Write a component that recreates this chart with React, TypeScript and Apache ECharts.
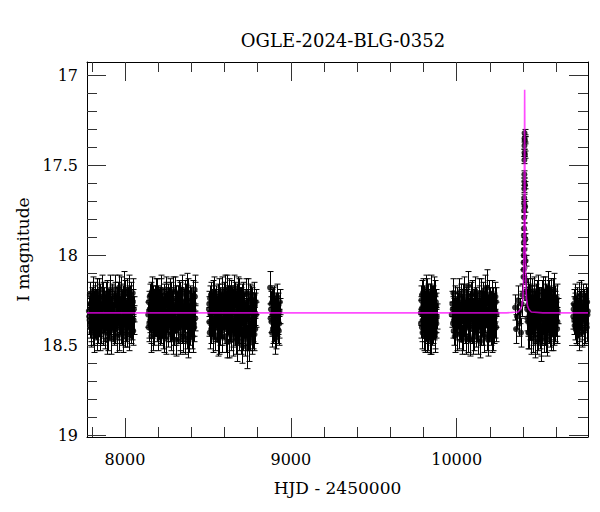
import React, { useEffect, useRef } from "react";
import * as echarts from "echarts";

// [HJD-2450000, I mag, error]
const season1 = [[7782,18.31,0.07],[7786,18.36,0.08],[7789,18.27,0.06],[7793,18.40,0.08],[7796,18.30,0.07],[7799,18.24,0.06],[7803,18.35,0.07],[7806,18.42,0.08],[7810,18.29,0.06],[7813,18.33,0.07],[7817,18.22,0.07],[7820,18.38,0.08],[7824,18.31,0.06],[7827,18.26,0.07],[7831,18.44,0.09],[7834,18.34,0.07],[7838,18.28,0.06],[7841,18.20,0.07],[7845,18.37,0.08],[7848,18.32,0.06],[7852,18.25,0.07],[7855,18.41,0.08],[7859,18.30,0.07],[7862,18.35,0.06],[7866,18.23,0.08],[7869,18.39,0.07],[7873,18.29,0.06],[7876,18.33,0.07],[7880,18.43,0.09],[7883,18.27,0.07],[7887,18.36,0.06],[7891,18.47,0.08],[7894,18.21,0.07],[7898,18.31,0.06],[7901,18.38,0.08],[7905,18.26,0.07],[7908,18.34,0.07],[7912,18.19,0.08],[7915,18.40,0.07],[7919,18.30,0.06],[7922,18.24,0.07],[7926,18.37,0.08],[7929,18.32,0.06],[7933,18.28,0.07],[7936,18.42,0.08],[7940,18.22,0.07],[7943,18.35,0.06],[7947,18.30,0.07],[7950,18.45,0.09],[7954,18.25,0.07],[7957,18.33,0.06],[7961,18.39,0.08],[7964,18.18,0.07],[7968,18.29,0.06],[7971,18.36,0.07],[7975,18.41,0.08],[7978,18.23,0.07],[7982,18.31,0.06],[7985,18.27,0.07],[7989,18.38,0.08],[7992,18.34,0.06],[7996,18.20,0.11],[7999,18.43,0.08],[8003,18.29,0.07],[8006,18.35,0.06],[8010,18.21,0.08],[8013,18.40,0.07],[8017,18.30,0.06],[8020,18.25,0.07],[8024,18.37,0.08],[8027,18.44,0.09],[8031,18.28,0.07],[8034,18.33,0.06],[8038,18.22,0.07],[8041,18.39,0.08],[8045,18.31,0.06],[8048,18.26,0.07],[8052,18.36,0.08]];
const season1b = [[7784,18.34,0.07],[7788,18.22,0.07],[7791,18.38,0.08],[7795,18.27,0.06],[7798,18.43,0.08],[7801,18.31,0.07],[7805,18.20,0.08],[7808,18.36,0.07],[7812,18.26,0.06],[7815,18.45,0.09],[7819,18.33,0.07],[7822,18.24,0.07],[7826,18.39,0.08],[7829,18.30,0.06],[7833,18.21,0.08],[7836,18.41,0.08],[7840,18.35,0.07],[7843,18.27,0.06],[7847,18.44,0.09],[7850,18.23,0.07],[7854,18.32,0.06],[7857,18.37,0.08],[7861,18.19,0.08],[7864,18.30,0.07],[7868,18.42,0.08],[7871,18.25,0.07],[7875,18.36,0.07],[7878,18.28,0.06],[7882,18.40,0.08],[7885,18.22,0.07],[7889,18.33,0.06],[7893,18.38,0.08],[7896,18.27,0.07],[7900,18.44,0.09],[7903,18.31,0.06],[7907,18.21,0.07],[7910,18.36,0.08],[7914,18.29,0.06],[7917,18.46,0.09],[7921,18.34,0.07],[7924,18.23,0.07],[7928,18.40,0.08],[7931,18.26,0.06],[7935,18.35,0.07],[7938,18.19,0.08],[7942,18.41,0.08],[7945,18.28,0.06],[7949,18.33,0.07],[7952,18.39,0.08],[7956,18.22,0.07],[7959,18.30,0.06],[7963,18.44,0.09],[7966,18.25,0.07],[7970,18.37,0.07],[7973,18.31,0.06],[7977,18.20,0.08],[7980,18.42,0.08],[7984,18.34,0.07],[7987,18.24,0.07],[7991,18.45,0.09],[7994,18.28,0.06],[7998,18.36,0.07],[8001,18.22,0.08],[8005,18.40,0.08],[8008,18.31,0.06],[8012,18.26,0.07],[8015,18.43,0.08],[8019,18.34,0.07],[8022,18.19,0.08],[8026,18.30,0.06],[8029,18.38,0.08],[8033,18.24,0.07],[8036,18.41,0.08],[8040,18.29,0.06],[8043,18.35,0.07],[8047,18.21,0.08],[8050,18.42,0.08],[8054,18.30,0.07]];

const season2 = [[8140,18.33,0.07],[8143,18.26,0.06],[8147,18.38,0.08],[8150,18.30,0.07],[8154,18.22,0.07],[8157,18.41,0.08],[8161,18.29,0.06],[8164,18.35,0.07],[8168,18.24,0.07],[8171,18.44,0.09],[8175,18.31,0.06],[8178,18.27,0.07],[8182,18.37,0.08],[8185,18.20,0.07],[8189,18.33,0.06],[8192,18.40,0.08],[8196,18.28,0.07],[8199,18.23,0.06],[8203,18.36,0.07],[8206,18.30,0.06],[8210,18.42,0.08],[8213,18.25,0.07],[8217,18.34,0.06],[8220,18.21,0.08],[8224,18.39,0.07],[8227,18.29,0.06],[8231,18.32,0.07],[8234,18.45,0.09],[8238,18.26,0.07],[8241,18.35,0.06],[8245,18.19,0.07],[8248,18.38,0.08],[8252,18.31,0.06],[8255,18.27,0.07],[8259,18.43,0.08],[8262,18.23,0.07],[8266,18.34,0.06],[8269,18.30,0.07],[8273,18.40,0.08],[8276,18.22,0.07],[8280,18.36,0.07],[8283,18.29,0.06],[8287,18.46,0.09],[8290,18.25,0.07],[8294,18.33,0.06],[8297,18.38,0.08],[8301,18.20,0.08],[8304,18.31,0.06],[8308,18.42,0.08],[8311,18.27,0.07],[8315,18.35,0.06],[8318,18.24,0.07],[8322,18.39,0.08],[8325,18.30,0.06],[8329,18.47,0.08],[8332,18.22,0.07],[8336,18.34,0.06],[8339,18.28,0.07],[8343,18.41,0.08],[8346,18.32,0.06],[8350,18.45,0.09],[8353,18.26,0.07],[8357,18.36,0.07],[8360,18.21,0.07],[8364,18.40,0.08],[8367,18.30,0.06],[8371,18.44,0.08],[8374,18.20,0.10],[8378,18.33,0.06],[8381,18.27,0.07],[8385,18.39,0.08],[8388,18.46,0.08],[8392,18.24,0.07],[8395,18.31,0.06],[8399,18.37,0.08],[8402,18.43,0.09],[8406,18.28,0.07],[8409,18.34,0.06],[8413,18.22,0.08],[8416,18.38,0.07],[8420,18.19,0.08],[8424,18.35,0.07]];
const season2b = [[8142,18.40,0.08],[8145,18.31,0.06],[8149,18.23,0.07],[8152,18.36,0.07],[8156,18.28,0.06],[8159,18.45,0.09],[8163,18.20,0.08],[8166,18.33,0.06],[8170,18.38,0.08],[8173,18.26,0.07],[8177,18.42,0.08],[8180,18.31,0.06],[8184,18.24,0.07],[8187,18.37,0.08],[8191,18.29,0.06],[8194,18.21,0.08],[8198,18.44,0.09],[8201,18.33,0.07],[8205,18.26,0.07],[8208,18.39,0.08],[8212,18.30,0.06],[8215,18.19,0.08],[8219,18.41,0.08],[8222,18.35,0.07],[8226,18.27,0.06],[8229,18.43,0.09],[8233,18.23,0.07],[8236,18.32,0.06],[8240,18.38,0.08],[8243,18.28,0.07],[8247,18.46,0.09],[8250,18.22,0.07],[8254,18.36,0.07],[8257,18.30,0.06],[8261,18.40,0.08],[8264,18.25,0.07],[8268,18.34,0.06],[8271,18.21,0.08],[8275,18.44,0.09],[8278,18.31,0.06],[8282,18.27,0.07],[8285,18.39,0.08],[8289,18.33,0.06],[8292,18.20,0.08],[8296,18.42,0.08],[8299,18.29,0.07],[8303,18.36,0.07],[8306,18.24,0.07],[8310,18.47,0.09],[8313,18.32,0.06],[8317,18.28,0.07],[8320,18.41,0.08],[8324,18.22,0.08],[8327,18.35,0.06],[8331,18.30,0.07],[8334,18.44,0.09],[8338,18.25,0.07],[8341,18.37,0.07],[8345,18.19,0.08],[8348,18.33,0.06],[8352,18.40,0.08],[8355,18.29,0.07],[8359,18.46,0.09],[8362,18.26,0.07],[8366,18.35,0.06],[8369,18.23,0.07],[8373,18.38,0.08],[8376,18.31,0.06],[8380,18.48,0.09],[8383,18.21,0.08],[8387,18.34,0.07],[8390,18.28,0.07],[8394,18.42,0.08],[8397,18.32,0.06],[8401,18.25,0.07],[8404,18.37,0.08],[8408,18.45,0.09],[8411,18.30,0.06],[8415,18.27,0.07],[8418,18.40,0.08],[8422,18.23,0.08]];

const season3 = [[8506,18.30,0.07],[8509,18.37,0.08],[8513,18.24,0.07],[8516,18.33,0.06],[8520,18.41,0.08],[8523,18.28,0.07],[8527,18.35,0.06],[8530,18.21,0.07],[8534,18.39,0.08],[8537,18.31,0.06],[8541,18.44,0.09],[8544,18.26,0.07],[8548,18.34,0.06],[8551,18.29,0.07],[8555,18.40,0.08],[8558,18.23,0.07],[8562,18.36,0.06],[8565,18.46,0.09],[8569,18.30,0.07],[8572,18.25,0.07],[8576,18.38,0.08],[8579,18.32,0.06],[8583,18.20,0.08],[8586,18.42,0.08],[8590,18.28,0.07],[8593,18.35,0.06],[8597,18.22,0.07],[8600,18.39,0.08],[8604,18.31,0.06],[8607,18.45,0.09],[8611,18.27,0.07],[8614,18.33,0.06],[8618,18.19,0.08],[8621,18.37,0.07],[8625,18.48,0.09],[8628,18.29,0.06],[8632,18.24,0.07],[8635,18.40,0.08],[8639,18.32,0.06],[8642,18.21,0.07],[8646,18.36,0.07],[8649,18.43,0.08],[8653,18.26,0.07],[8656,18.34,0.06],[8660,18.18,0.07],[8663,18.39,0.08],[8667,18.30,0.06],[8670,18.46,0.09],[8674,18.23,0.07],[8677,18.35,0.06],[8681,18.41,0.08],[8684,18.28,0.07],[8688,18.20,0.07],[8691,18.37,0.08],[8695,18.31,0.06],[8698,18.47,0.08],[8702,18.25,0.07],[8705,18.33,0.06],[8709,18.44,0.09],[8712,18.22,0.07],[8716,18.38,0.08],[8719,18.29,0.06],[8723,18.42,0.08],[8726,18.34,0.06],[8730,18.26,0.07],[8734,18.51,0.12],[8737,18.31,0.06],[8741,18.21,0.08],[8744,18.40,0.07],[8748,18.36,0.08],[8751,18.27,0.06],[8755,18.45,0.08],[8758,18.32,0.07],[8762,18.24,0.07],[8765,18.39,0.08],[8769,18.30,0.06],[8772,18.43,0.09],[8776,18.22,0.07],[8779,18.35,0.06],[8783,18.28,0.07],[8786,18.41,0.08],[8790,18.33,0.07]];
const season3b = [[8508,18.27,0.07],[8511,18.43,0.09],[8515,18.32,0.06],[8518,18.22,0.07],[8522,18.37,0.08],[8525,18.30,0.06],[8529,18.45,0.09],[8532,18.26,0.07],[8536,18.35,0.06],[8539,18.20,0.08],[8543,18.40,0.08],[8546,18.31,0.06],[8550,18.24,0.07],[8553,18.38,0.08],[8557,18.29,0.06],[8560,18.47,0.09],[8564,18.33,0.07],[8567,18.21,0.08],[8571,18.36,0.07],[8574,18.42,0.08],[8578,18.27,0.06],[8581,18.34,0.07],[8585,18.23,0.07],[8588,18.45,0.09],[8592,18.31,0.06],[8595,18.38,0.08],[8599,18.26,0.07],[8602,18.19,0.08],[8606,18.35,0.06],[8609,18.41,0.08],[8613,18.29,0.07],[8616,18.48,0.09],[8620,18.24,0.07],[8623,18.33,0.06],[8627,18.39,0.08],[8630,18.21,0.08],[8634,18.36,0.07],[8637,18.44,0.09],[8641,18.28,0.06],[8644,18.32,0.07],[8648,18.25,0.07],[8651,18.47,0.09],[8655,18.30,0.06],[8658,18.37,0.08],[8662,18.22,0.07],[8665,18.42,0.08],[8669,18.34,0.06],[8672,18.27,0.07],[8676,18.49,0.10],[8679,18.20,0.08],[8683,18.36,0.07],[8686,18.31,0.06],[8690,18.44,0.09],[8693,18.25,0.07],[8697,18.39,0.08],[8700,18.29,0.06],[8704,18.50,0.10],[8707,18.23,0.07],[8711,18.35,0.07],[8714,18.41,0.08],[8718,18.27,0.06],[8721,18.33,0.07],[8725,18.47,0.09],[8728,18.21,0.08],[8732,18.38,0.08],[8736,18.30,0.06],[8739,18.44,0.09],[8743,18.26,0.07],[8746,18.34,0.06],[8750,18.49,0.10],[8753,18.23,0.07],[8757,18.37,0.08],[8760,18.31,0.06],[8764,18.46,0.09],[8767,18.25,0.07],[8771,18.35,0.07],[8774,18.40,0.08],[8778,18.28,0.06],[8781,18.44,0.09],[8785,18.32,0.07],[8788,18.26,0.07]];

const season4 = [[8875,18.18,0.09],[8880,18.30,0.07],[8884,18.37,0.08],[8888,18.26,0.07],[8892,18.41,0.08],[8896,18.32,0.06],[8900,18.24,0.07],[8904,18.39,0.08],[8908,18.29,0.06],[8912,18.44,0.08],[8916,18.34,0.07],[8920,18.27,0.06],[8924,18.36,0.08],[8928,18.42,0.08],[8932,18.31,0.07]];
const season4b = [[8878,18.35,0.08],[8882,18.27,0.07],[8886,18.43,0.08],[8890,18.33,0.07],[8894,18.25,0.07],[8898,18.40,0.08],[8902,18.30,0.06],[8906,18.46,0.09],[8910,18.28,0.07],[8914,18.37,0.08],[8918,18.23,0.07],[8922,18.41,0.08],[8926,18.32,0.06],[8930,18.38,0.08],[8934,18.26,0.07]];

const season5 = [[9784,18.32,0.07],[9787,18.25,0.08],[9790,18.40,0.08],[9793,18.29,0.07],[9796,18.36,0.07],[9799,18.21,0.08],[9802,18.44,0.09],[9805,18.31,0.06],[9808,18.27,0.07],[9811,18.38,0.08],[9814,18.19,0.08],[9817,18.34,0.07],[9820,18.46,0.08],[9823,18.28,0.07],[9826,18.41,0.08],[9829,18.23,0.07],[9832,18.35,0.06],[9835,18.30,0.07],[9838,18.47,0.08],[9841,18.26,0.07],[9844,18.37,0.08],[9847,18.20,0.09],[9850,18.33,0.06],[9853,18.42,0.08],[9856,18.29,0.07],[9859,18.24,0.07],[9862,18.39,0.08],[9865,18.31,0.06],[9868,18.45,0.09],[9871,18.22,0.08],[9874,18.36,0.07],[9877,18.28,0.07],[9880,18.34,0.07]];
const season5b = [[9785,18.38,0.08],[9788,18.30,0.07],[9791,18.22,0.08],[9794,18.43,0.09],[9797,18.33,0.06],[9800,18.27,0.07],[9803,18.37,0.08],[9806,18.24,0.07],[9809,18.45,0.09],[9812,18.31,0.06],[9815,18.40,0.08],[9818,18.26,0.07],[9821,18.35,0.07],[9824,18.21,0.08],[9827,18.32,0.06],[9830,18.44,0.09],[9833,18.28,0.07],[9836,18.39,0.08],[9839,18.23,0.07],[9842,18.33,0.06],[9845,18.46,0.09],[9848,18.29,0.07],[9851,18.36,0.07],[9854,18.25,0.08],[9857,18.41,0.08],[9860,18.32,0.06],[9863,18.20,0.08],[9866,18.37,0.08],[9869,18.30,0.07],[9872,18.43,0.09],[9875,18.26,0.07],[9878,18.38,0.08]];

const season6 = [[9970,18.33,0.07],[9974,18.27,0.07],[9978,18.38,0.08],[9982,18.42,0.08],[9986,18.30,0.06],[9990,18.24,0.07],[9994,18.36,0.07],[9998,18.31,0.06],[10002,18.44,0.09],[10006,18.28,0.07],[10010,18.35,0.06],[10014,18.21,0.08],[10018,18.39,0.08],[10022,18.32,0.06],[10026,18.26,0.07],[10030,18.47,0.08],[10034,18.30,0.07],[10038,18.23,0.07],[10042,18.37,0.08],[10046,18.33,0.06],[10050,18.41,0.08],[10054,18.25,0.07],[10058,18.35,0.06],[10062,18.29,0.07],[10066,18.45,0.09],[10069,18.17,0.08],[10073,18.34,0.06],[10077,18.40,0.08],[10081,18.27,0.07],[10085,18.31,0.06],[10089,18.22,0.07],[10093,18.38,0.08],[10097,18.46,0.09],[10101,18.30,0.06],[10105,18.26,0.07],[10109,18.36,0.07],[10113,18.20,0.08],[10117,18.43,0.08],[10121,18.32,0.06],[10125,18.28,0.07],[10129,18.39,0.08],[10133,18.24,0.07],[10137,18.35,0.06],[10141,18.48,0.09],[10145,18.30,0.07],[10149,18.21,0.08],[10153,18.37,0.08],[10157,18.33,0.06],[10161,18.42,0.08],[10165,18.27,0.07],[10169,18.19,0.08],[10173,18.36,0.07],[10177,18.31,0.06],[10181,18.44,0.09],[10184,18.18,0.10],[10188,18.34,0.06],[10192,18.29,0.07],[10196,18.40,0.08],[10200,18.25,0.07],[10204,18.38,0.08],[10208,18.32,0.06],[10212,18.46,0.08],[10216,18.22,0.08],[10220,18.35,0.07],[10224,18.28,0.07],[10228,18.41,0.08],[10232,18.31,0.06],[10236,18.26,0.08],[10240,18.33,0.07]];
const season6b = [[9976,18.30,0.07],[9980,18.21,0.08],[9984,18.36,0.07],[9988,18.45,0.09],[9992,18.28,0.07],[9996,18.33,0.06],[10000,18.39,0.08],[10004,18.25,0.07],[10008,18.31,0.06],[10012,18.43,0.09],[10016,18.27,0.07],[10020,18.35,0.06],[10024,18.40,0.08],[10028,18.23,0.07],[10032,18.32,0.06],[10036,18.44,0.09],[10040,18.29,0.07],[10044,18.20,0.08],[10048,18.37,0.07],[10052,18.31,0.06],[10056,18.46,0.09],[10060,18.26,0.07],[10064,18.34,0.06],[10068,18.39,0.08],[10071,18.24,0.07],[10075,18.30,0.06],[10079,18.47,0.09],[10083,18.35,0.07],[10087,18.28,0.06],[10091,18.41,0.08],[10095,18.22,0.08],[10099,18.33,0.06],[10103,18.38,0.08],[10107,18.44,0.09],[10111,18.29,0.07],[10115,18.35,0.06],[10119,18.25,0.07],[10123,18.40,0.08],[10127,18.31,0.06],[10131,18.46,0.09],[10135,18.21,0.08],[10139,18.36,0.07],[10143,18.30,0.06],[10147,18.42,0.08],[10151,18.27,0.07],[10155,18.34,0.06],[10159,18.23,0.08],[10163,18.39,0.08],[10167,18.45,0.09],[10171,18.29,0.06],[10175,18.33,0.07],[10179,18.24,0.07],[10183,18.38,0.08],[10186,18.31,0.06],[10190,18.47,0.09],[10194,18.22,0.08],[10198,18.35,0.07],[10202,18.30,0.06],[10206,18.42,0.08],[10210,18.27,0.07],[10214,18.36,0.07],[10218,18.44,0.09],[10222,18.25,0.07],[10226,18.32,0.06],[10230,18.38,0.08],[10234,18.23,0.08],[10238,18.40,0.08]];

const season7pre = [[10352,18.29,0.07],[10358,18.41,0.08],[10364,18.34,0.07],[10370,18.25,0.08],[10376,18.38,0.07],[10382,18.31,0.07],[10388,18.43,0.08],[10392,18.27,0.07],[10396,18.22,0.06]];

const peak = [[10403.0,18.12,0.04],[10403.5,18.08,0.04],[10404.0,18.04,0.03],[10404.5,18.00,0.03],[10405.0,17.97,0.03],[10405.3,17.93,0.03],[10405.6,17.89,0.03],[10406.0,17.85,0.03],[10406.4,17.79,0.03],[10406.7,17.75,0.03],[10407.0,17.71,0.02],[10407.3,17.68,0.02],[10407.7,17.63,0.02],[10408.0,17.59,0.02],[10408.2,17.55,0.02],[10408.5,17.47,0.02],[10408.7,17.43,0.02],[10408.9,17.39,0.02],[10409.1,17.35,0.02],[10409.3,17.32,0.02],[10411.0,17.36,0.02],[10411.4,17.44,0.02],[10412.2,17.61,0.02],[10413.0,17.73,0.03],[10414.0,17.91,0.03],[10415.5,18.03,0.03],[10417.0,18.14,0.04],[10419.0,18.20,0.05],[10422.0,18.24,0.05]];

const season7post = [[10425,18.30,0.07],[10428,18.21,0.08],[10431,18.37,0.08],[10434,18.27,0.07],[10437,18.43,0.09],[10440,18.33,0.06],[10443,18.18,0.08],[10446,18.39,0.08],[10449,18.29,0.07],[10452,18.35,0.06],[10455,18.24,0.07],[10458,18.45,0.09],[10461,18.31,0.06],[10464,18.20,0.08],[10467,18.38,0.07],[10470,18.27,0.07],[10473,18.41,0.08],[10476,18.34,0.06],[10479,18.23,0.07],[10482,18.46,0.09],[10485,18.30,0.06],[10488,18.36,0.07],[10491,18.19,0.08],[10494,18.40,0.08],[10497,18.28,0.07],[10500,18.33,0.06],[10503,18.44,0.08],[10506,18.25,0.07],[10510,18.47,0.09],[10513,18.31,0.06],[10516,18.22,0.08],[10519,18.37,0.07],[10522,18.29,0.07],[10525,18.42,0.08],[10528,18.34,0.06],[10531,18.20,0.08],[10534,18.39,0.08],[10537,18.27,0.07],[10540,18.45,0.09],[10543,18.32,0.06],[10546,18.24,0.07],[10549,18.36,0.07],[10552,18.18,0.09],[10555,18.41,0.08],[10558,18.30,0.06],[10561,18.26,0.07],[10564,18.43,0.08],[10567,18.33,0.06],[10570,18.21,0.08],[10573,18.38,0.07],[10576,18.29,0.07],[10580,18.44,0.09],[10583,18.31,0.06],[10586,18.19,0.09],[10589,18.36,0.07],[10592,18.27,0.07],[10596,18.40,0.08],[10600,18.33,0.07],[10604,18.24,0.08],[10608,18.37,0.08]];
const season7postb = [[10426,18.35,0.07],[10429,18.28,0.07],[10432,18.43,0.09],[10435,18.23,0.07],[10438,18.31,0.06],[10441,18.39,0.08],[10444,18.26,0.07],[10447,18.34,0.06],[10450,18.46,0.09],[10453,18.21,0.08],[10456,18.37,0.07],[10459,18.29,0.07],[10462,18.42,0.08],[10465,18.32,0.06],[10468,18.24,0.07],[10471,18.36,0.07],[10474,18.48,0.09],[10477,18.27,0.07],[10480,18.33,0.06],[10483,18.40,0.08],[10486,18.22,0.08],[10489,18.31,0.06],[10492,18.44,0.09],[10495,18.35,0.07],[10498,18.25,0.07],[10501,18.38,0.08],[10504,18.30,0.06],[10507,18.49,0.10],[10511,18.28,0.07],[10514,18.41,0.08],[10517,18.33,0.06],[10520,18.20,0.08],[10523,18.36,0.07],[10526,18.45,0.09],[10529,18.26,0.07],[10532,18.34,0.06],[10535,18.42,0.08],[10538,18.23,0.07],[10541,18.31,0.06],[10544,18.38,0.08],[10547,18.47,0.09],[10550,18.28,0.07],[10553,18.35,0.06],[10556,18.22,0.08],[10559,18.40,0.08],[10562,18.32,0.06],[10565,18.25,0.07],[10568,18.44,0.09],[10571,18.30,0.06],[10574,18.36,0.07],[10578,18.21,0.08],[10581,18.39,0.08],[10584,18.27,0.07],[10587,18.42,0.08],[10590,18.33,0.06],[10594,18.24,0.07],[10598,18.37,0.08],[10602,18.29,0.07],[10606,18.41,0.08],[10610,18.31,0.07]];

const season8 = [[10703,18.34,0.07],[10707,18.27,0.08],[10711,18.39,0.08],[10716,18.24,0.08],[10719,18.31,0.07],[10723,18.42,0.08],[10727,18.29,0.07],[10731,18.36,0.07],[10735,18.23,0.08],[10739,18.40,0.08],[10743,18.32,0.06],[10747,18.26,0.07],[10751,18.37,0.08],[10755,18.43,0.08],[10759,18.30,0.07],[10763,18.24,0.08],[10767,18.35,0.07],[10771,18.41,0.08],[10775,18.28,0.07],[10779,18.33,0.06],[10783,18.38,0.08],[10787,18.26,0.08],[10791,18.31,0.07]];
const season8b = [[10705,18.30,0.07],[10709,18.36,0.08],[10713,18.28,0.07],[10717,18.41,0.08],[10721,18.33,0.06],[10725,18.25,0.07],[10729,18.38,0.08],[10733,18.31,0.06],[10737,18.44,0.09],[10741,18.27,0.07],[10745,18.35,0.07],[10749,18.22,0.08],[10753,18.33,0.06],[10757,18.39,0.08],[10761,18.29,0.07],[10765,18.42,0.08],[10769,18.26,0.07],[10773,18.36,0.07],[10777,18.31,0.06],[10781,18.24,0.08],[10785,18.40,0.08],[10789,18.33,0.07]];

// model curve [HJD-2450000, I mag]
const model = [[7771,18.32],[10300,18.32],[10370,18.315],[10385,18.30],[10393,18.28],[10399,18.24],[10402,18.17],[10404,18.07],[10405.5,17.95],[10407,17.72],[10408.5,17.45],[10409.5,17.2],[10410,17.08],[10410.5,17.2],[10411.5,17.45],[10413,17.72],[10414.5,17.95],[10416,18.07],[10418,18.17],[10421,18.24],[10427,18.28],[10435,18.30],[10450,18.315],[10520,18.32],[10792,18.32]];

const xMin = 7771;
const xMax = 10792;
const yMin = 16.925;
const yMax = 19.01;
const xMajor = [8000, 9000, 10000];
const xMinor = [7800, 8200, 8400, 8600, 8800, 9200, 9400, 9600, 9800, 10200, 10400, 10600];
const yMajor = [17, 17.5, 18, 18.5, 19];
const yMinor = [17.1, 17.2, 17.3, 17.4, 17.6, 17.7, 17.8, 17.9, 18.1, 18.2, 18.3, 18.4, 18.6, 18.7, 18.8, 18.9];

const titleText = "OGLE-2024-BLG-0352";
const xName = "HJD - 2450000";
const yName = "I magnitude";

const FONT = "DejaVu Serif";

export default function App() {
  const ref = useRef<HTMLDivElement>(null);
  useEffect(() => {
    document.body.style.margin = "0";
    const chart = echarts.init(ref.current!, null, { renderer: "svg" });
    const all = [
      ...season1, ...season1b, ...season2, ...season2b, ...season3, ...season3b,
      ...season4, ...season4b, ...season5, ...season5b, ...season6, ...season6b,
      ...season7pre, ...peak, ...season7post, ...season7postb, ...season8, ...season8b,
    ];
    const tickColor = "#333";
    const mkX = (pos: string, major: boolean, main: boolean) => ({
      type: "value",
      position: pos,
      min: xMin,
      max: xMax,
      name: main ? xName : "",
      nameLocation: "middle",
      nameGap: 42,
      nameTextStyle: { fontFamily: FONT, fontSize: 17, color: "#000" },
      axisLine: { show: major, onZero: false, lineStyle: { color: "#000", width: 1 } },
      axisTick: {
        show: true,
        inside: true,
        length: major ? 19 : 10,
        customValues: major ? xMajor : xMinor,
        lineStyle: { color: tickColor, width: 1 },
      },
      axisLabel: {
        show: main,
        customValues: xMajor,
        formatter: (v: number) => String(v),
        margin: 14,
        fontFamily: FONT,
        fontSize: 16,
        color: "#000",
      },
      splitLine: { show: false },
    });
    const mkY = (pos: string, major: boolean, main: boolean) => ({
      type: "value",
      position: pos,
      inverse: true,
      min: yMin,
      max: yMax,
      name: main ? yName : "",
      nameLocation: "middle",
      nameGap: 47,
      nameRotate: 90,
      nameTextStyle: { fontFamily: FONT, fontSize: 17, color: "#000" },
      axisLine: { show: major, onZero: false, lineStyle: { color: "#000", width: 1 } },
      axisTick: {
        show: true,
        inside: true,
        length: major ? 19 : 10,
        customValues: major ? yMajor : yMinor,
        lineStyle: { color: tickColor, width: 1 },
      },
      axisLabel: {
        show: main,
        customValues: yMajor,
        formatter: (v: number) => String(v),
        margin: 9,
        fontFamily: FONT,
        fontSize: 16,
        color: "#000",
      },
      splitLine: { show: false },
    });
    chart.setOption({
      animation: false,
      backgroundColor: "#fff",
      title: {
        text: titleText,
        left: 338,
        textAlign: "center",
        top: 26,
        textStyle: { fontFamily: FONT, fontSize: 18, fontWeight: "normal", color: "#000" },
      },
      grid: { left: 87, right: 12, top: 62, bottom: 75, containLabel: false },
      xAxis: [mkX("bottom", true, true), mkX("bottom", false, false), mkX("top", true, false), mkX("top", false, false)],
      yAxis: [mkY("left", true, true), mkY("left", false, false), mkY("right", true, false), mkY("right", false, false)],
      series: [
        {
          type: "custom",
          xAxisIndex: 0,
          yAxisIndex: 0,
          clip: true,
          data: all,
          encode: { x: 0, y: 1 },
          renderItem: (params: any, api: any) => {
            const x = api.value(0);
            const y = api.value(1);
            const e = api.value(2);
            const a = api.coord([x, y - e]);
            const b = api.coord([x, y + e]);
            const px = Math.round(a[0]) + 0.5;
            const c = 3;
            const st = { stroke: "#000", lineWidth: 1 };
            return {
              type: "group",
              children: [
                { type: "line", shape: { x1: px, y1: a[1], x2: px, y2: b[1] }, style: st },
                { type: "line", shape: { x1: px - c, y1: a[1], x2: px + c, y2: a[1] }, style: st },
                { type: "line", shape: { x1: px - c, y1: b[1], x2: px + c, y2: b[1] }, style: st },
              ],
            };
          },
          z: 2,
        },
        {
          type: "scatter",
          xAxisIndex: 0,
          yAxisIndex: 0,
          data: all.map((d) => [d[0], d[1]]),
          symbol: "circle",
          symbolSize: 6,
          itemStyle: { color: "#000" },
          clip: true,
          z: 3,
        },
        {
          type: "line",
          xAxisIndex: 0,
          yAxisIndex: 0,
          data: model,
          showSymbol: false,
          smooth: false,
          lineStyle: { color: "#ff00ff", width: 1.6, opacity: 0.7 },
          clip: true,
          z: 4,
        },
      ],
    });
    return () => chart.dispose();
  }, []);
  return <div ref={ref} style={{ width: 600, height: 512 }} />;
}
